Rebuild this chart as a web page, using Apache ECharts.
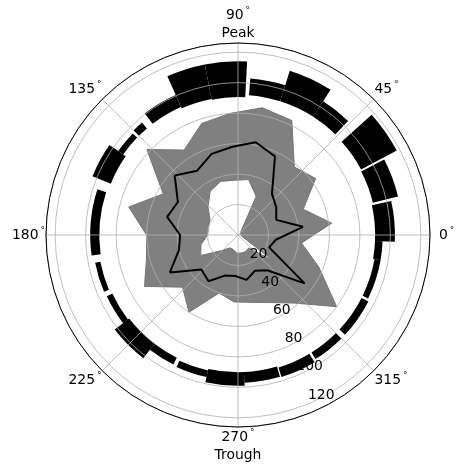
<!DOCTYPE html>
<html><head><meta charset="utf-8">
<script src="https://cdn.jsdelivr.net/npm/echarts@6/dist/echarts.min.js"></script>
<style>html,body{margin:0;padding:0;background:#fff}#c{width:466px;height:471px}</style>
</head><body><div id="c"></div>
<script>
// ---- data (phase in degrees, radius in data units) ----
const phaseDeg = [7.2, 21.6, 36, 50.4, 64.8, 79.2, 93.6, 108, 122.4, 136.8, 151.2, 165.6, 180, 194.4, 208.8, 223.2, 237.6, 252, 266.4, 280.8, 295.2, 309.6, 324, 338.4, 352.8];
const upperR = [62, 46, 63, 58, 83, 85, 80, 77, 66, 82, 56, 74, 60, 62, 70, 50, 60, 40, 44, 45, 49, 58, 80, 57, 42];
const lowerR = [2, 2, 2, 3, 28, 37, 36, 37, 34, 27, 21, 20, 20, 25, 28, 15, 10, 10, 12, 12, 12, 11, 29, 3, 2];
const meanR  = [43, 27, 31, 35, 57, 62, 58, 56, 50, 57, 45, 48, 38, 40, 51, 33, 36, 28, 27, 30, 26, 30, 54, 22, 25];

// outer ring segments: start angle, end angle, inner radius, outer radius
const ringStart = [-2.5, 13.5, 28, 46, 57.5, 72.5, 87, 101, 114, 130.5, 136, 145, 162, 191, 205, 217.5, 232.5, 245, 257.5, 272.5, 287, 302, 317, 334, 350];
const ringEnd   = [12.5, 27.3, 42, 57.5, 72.5, 85.5, 101, 114, 127.5, 135, 145, 158, 188, 203, 217.5, 232.5, 243.5, 257.5, 272.5, 286.5, 301, 315, 333, 350, 357.5];
const ringInner = [90, 91, 91.5, 92, 92, 92, 90.5, 91, 92, 92, 92, 90, 91, 92, 91, 90, 90, 91, 90, 90, 91, 91, 91, 91, 90];
const ringOuter = [103, 108, 118, 104, 113, 103, 114, 114, 100.5, 97, 96, 103, 97, 95.5, 95, 102, 95, 95.5, 99, 97, 97.5, 96, 96, 95, 95];

const angleTickLabels = {0: '{pad|0}{d|°}', 45: '45{d|°}', 90: '90{d|°}\nPeak', 135: '135{d|°}', 180: '180{d|°}', 225: '225{d|°}', 270: '270{d|°}\nTrough', 315: '315{d|°}'};
const radiusTickLabels = [20, 40, 60, 80, 100, 120];

// ---- chart ----
const FONT = 'DejaVu Sans';
const FS = 13.9;
const chart = echarts.init(document.getElementById('c'), null, {renderer: 'canvas'});

const ringData = ringStart.map((s, i) => [s, ringEnd[i], ringInner[i], ringOuter[i]]);
const meanData = phaseDeg.map((a, i) => [meanR[i], a]);
meanData.push([meanR[0], phaseDeg[0] + 360]);

function renderRing(params, api) {
  const a0 = api.value(0), a1 = api.value(1), r0 = api.value(2), r1 = api.value(3);
  const c = api.coord([0, 0]);
  const pa = api.coord([r1, a0]);
  const pb = api.coord([r1, a1]);
  const pi = api.coord([r0, a0]);
  const R = Math.hypot(pa[0] - c[0], pa[1] - c[1]);
  const R0 = Math.hypot(pi[0] - c[0], pi[1] - c[1]);
  let s0 = Math.atan2(pa[1] - c[1], pa[0] - c[0]);
  let s1 = Math.atan2(pb[1] - c[1], pb[0] - c[0]);
  if (s0 < s1) s0 += 2 * Math.PI;
  return {type: 'sector', shape: {cx: c[0], cy: c[1], r0: R0, r: R, startAngle: s1, endAngle: s0, clockwise: true},
          style: {fill: '#000'}};
}

function renderFill(params, api) {
  const up = phaseDeg.map((a, i) => api.coord([upperR[i], a]));
  const lo = phaseDeg.map((a, i) => api.coord([lowerR[i], a]));
  return {type: 'group', children: [
    {type: 'polygon', shape: {points: up}, style: {fill: '#808080', stroke: '#757575', lineWidth: 1}},
    {type: 'polygon', shape: {points: lo}, style: {fill: '#ffffff', stroke: '#757575', lineWidth: 1}}
  ]};
}

const option = {
  animation: false,
  backgroundColor: '#fff',
  polar: [
    {center: [238, 235], radius: [0, 192]},
    {center: [238, 235], radius: [0, 192]}
  ],
  angleAxis: [
    {polarIndex: 0, type: 'value', min: 0, max: 360, interval: 45, startAngle: 0, clockwise: false, z: 3,
     axisLine: {show: true, lineStyle: {color: '#000', width: 1}},
     axisTick: {show: false},
     splitLine: {show: true, lineStyle: {color: '#b0b0b0', width: 0.8}},
     axisLabel: {show: true, margin: 1, color: '#000', fontFamily: FONT, fontSize: FS, lineHeight: 18,
       formatter: v => angleTickLabels[v] || '',
       rich: {
         pad: {padding: [0, 0, 0, 8], fontFamily: FONT, fontSize: FS, color: '#000', lineHeight: 18},
         d: {fontFamily: FONT, fontSize: 9, color: '#000', padding: [0, 0, 0, 2], verticalAlign: 'top', lineHeight: 18}
       }}},
    {polarIndex: 1, type: 'value', min: 0, max: 360, startAngle: -67.5, clockwise: false,
     axisLine: {show: false}, axisTick: {show: false}, axisLabel: {show: false}, splitLine: {show: false}}
  ],
  radiusAxis: [
    {polarIndex: 0, type: 'value', min: 0, max: 126, interval: 20, z: 3,
     axisLine: {show: false}, axisTick: {show: false}, axisLabel: {show: false},
     splitLine: {show: true, lineStyle: {color: '#b0b0b0', width: 0.8}}},
    {polarIndex: 1, type: 'value', min: 0, max: 126, interval: 20, z: 3,
     axisLine: {show: false}, axisTick: {show: false}, splitLine: {show: false},
     axisLabel: {show: true, margin: 0, align: 'left', verticalAlign: 'bottom', color: '#000', fontFamily: FONT, fontSize: FS,
       padding: [0, 0, 2, 0],
       formatter: v => radiusTickLabels.indexOf(v) >= 0 ? String(v) : ''}}
  ],
  series: [
    {type: 'custom', coordinateSystem: 'polar', polarIndex: 0, z: 1, renderItem: renderRing, data: ringData, silent: true},
    {type: 'custom', coordinateSystem: 'polar', polarIndex: 0, z: 2, renderItem: renderFill, data: [[0, 0]], silent: true},
    {type: 'line', coordinateSystem: 'polar', polarIndex: 0, z: 4, data: meanData, showSymbol: false, symbol: 'none',
     lineStyle: {color: '#000', width: 2}, silent: true}
  ]
};
chart.setOption(option);
</script>
</body></html>
